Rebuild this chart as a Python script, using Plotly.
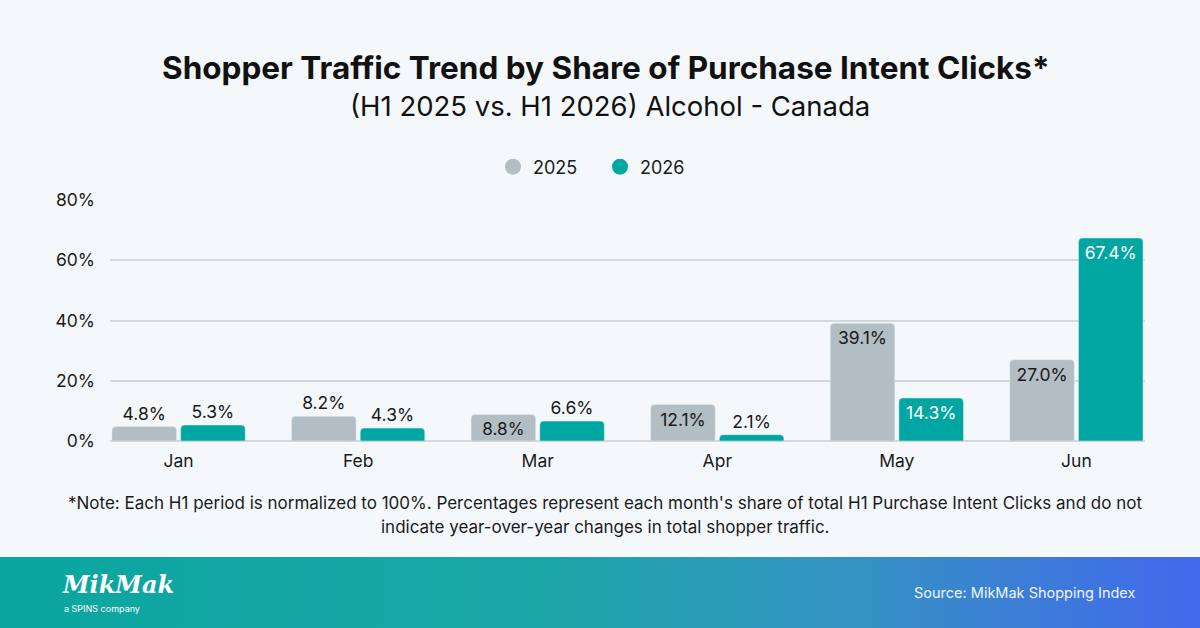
import base64
import plotly.graph_objects as go

months = ["Jan", "Feb", "Mar", "Apr", "May", "Jun"]
share_2025 = [4.8, 8.2, 8.8, 12.1, 39.1, 27.0]
share_2026 = [5.3, 4.3, 6.6, 2.1, 14.3, 67.4]
pos_2025 = ["outside", "outside", "inside", "inside", "inside", "inside"]
pos_2026 = ["outside", "outside", "outside", "outside", "inside", "inside"]
y_ticks = [0, 20, 40, 60, 80]
y_ticktext = ["0%", "20%", "40%", "60%", "80%"]

GRAY = "#b2bdc4"
TEAL = "#00a6a1"
BG = "#f4f8fb"
FONT = "Inter"
TXT = "#1a1a1a"
LBL = 17.5

fig = go.Figure()
fig.add_trace(go.Bar(
    x=months, y=share_2025, name="2025", marker_color=GRAY,
    text=[f"{v:.1f}%" for v in share_2025], textposition=pos_2025,
    insidetextanchor="end", constraintext="none",
    insidetextfont=dict(color=TXT, size=LBL, family=FONT),
    outsidetextfont=dict(color=TXT, size=LBL, family=FONT),
    showlegend=False, cliponaxis=False, hoverinfo="skip",
))
fig.add_trace(go.Bar(
    x=months, y=share_2026, name="2026", marker_color=TEAL,
    text=[f"{v:.1f}%" for v in share_2026], textposition=pos_2026,
    insidetextanchor="end", constraintext="none",
    insidetextfont=dict(color="white", size=LBL, family=FONT),
    outsidetextfont=dict(color=TXT, size=LBL, family=FONT),
    showlegend=False, cliponaxis=False, hoverinfo="skip",
))
for name, col in [("2025", GRAY), ("2026", TEAL)]:
    fig.add_trace(go.Scatter(x=[None], y=[None], mode="markers", name=name,
                             marker=dict(color=col, size=18, symbol="circle")))

# footer gradient via svg image
svg = ('<svg xmlns="http://www.w3.org/2000/svg" width="1200" height="71" viewBox="0 0 1200 71" preserveAspectRatio="none">'
       '<defs><linearGradient id="g" x1="0" y1="0" x2="1" y2="0">'
       '<stop offset="0" stop-color="#0aa6a0"/><stop offset="0.45" stop-color="#1ba6a6"/>'
       '<stop offset="0.72" stop-color="#3591c4"/><stop offset="1" stop-color="#4368ec"/>'
       '</linearGradient></defs><rect width="1200" height="71" fill="url(#g)"/></svg>')
src = "data:image/svg+xml;base64," + base64.b64encode(svg.encode()).decode()

W, H = 1200, 628
ML, MR, MT, MB = 110, 55, 200, 187
PH = H - MT - MB

def py(pix):
    return (H - MB - pix) / PH

def px(pix):
    return (pix - ML) / (W - ML - MR)

fig.add_layout_image(dict(source=src, xref="paper", yref="paper",
                          x=px(0), y=py(557), sizex=W / (W - ML - MR), sizey=71 / PH,
                          xanchor="left", yanchor="top", sizing="stretch", layer="below"))

ann = [
    dict(text="<b>Shopper Traffic Trend by Share of Purchase Intent Clicks*</b>", x=px(606), y=py(67),
         font=dict(size=31.5, color="#111111", family=FONT)),
    dict(text="(H1 2025 vs. H1 2026) Alcohol - Canada", x=px(610), y=py(106),
         font=dict(size=27.5, color="#111111", family=FONT)),
    dict(text="*Note: Each H1 period is normalized to 100%. Percentages represent each month's share of total H1 Purchase Intent Clicks and do not",
         x=px(605), y=py(503), font=dict(size=17, color=TXT, family=FONT)),
    dict(text="indicate year-over-year changes in total shopper traffic.",
         x=px(605), y=py(527), font=dict(size=17, color=TXT, family=FONT)),
    dict(text="Source: MikMak Shopping Index", x=px(1137), y=py(593), xanchor="right",
         font=dict(size=14.5, color="#eef4fb", family=FONT)),
    dict(text="<b><i>MikMak</i></b>", x=px(60), y=py(584), xanchor="left",
         font=dict(size=24, color="white", family="DejaVu Serif")),
    dict(text="a SPINS company", x=px(62), y=py(608), xanchor="left",
         font=dict(size=9, color="white", family=FONT)),
]
for a in ann:
    a.setdefault("xanchor", "center")
    fig.add_annotation(xref="paper", yref="paper", yanchor="middle", showarrow=False, **a)

fig.update_layout(
    width=W, height=H,
    margin=dict(l=ML, r=MR, t=MT, b=MB, pad=0),
    paper_bgcolor=BG, plot_bgcolor=BG,
    barmode="group", bargap=0.235, bargroupgap=0.06, barcornerradius=4,
    font=dict(family=FONT, color=TXT),
    legend=dict(orientation="h", x=px(600), xanchor="center", y=py(167), yanchor="middle",
                font=dict(size=18, color=TXT, family=FONT), itemwidth=30,
                entrywidth=62, entrywidthmode="pixels", bgcolor="rgba(0,0,0,0)"),
    xaxis=dict(type="category", range=[-0.382, 5.382], showgrid=False, ticks="",
               tickfont=dict(size=17.5, color=TXT, family=FONT), showline=False, zeroline=False,
               ticklabelstandoff=7, fixedrange=True),
    yaxis=dict(range=[0, 80], tickvals=y_ticks, ticktext=y_ticktext, showgrid=True,
               gridcolor="#d3d8dd", gridwidth=1.5, zeroline=True, zerolinecolor="#d3d8dd",
               zerolinewidth=1.5, ticks="", ticklabelstandoff=14,
               tickfont=dict(size=17.5, color=TXT, family=FONT), showline=False),
)

fig.write_html("out.html")
